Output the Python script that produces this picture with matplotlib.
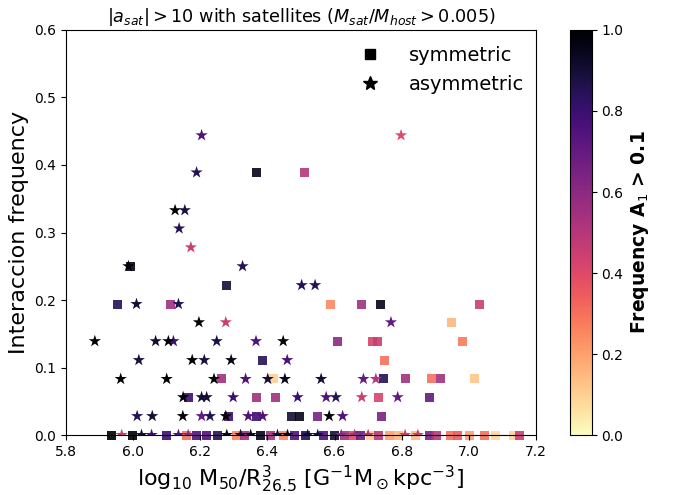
import matplotlib
matplotlib.use('Agg')
import matplotlib.pyplot as plt
from matplotlib.lines import Line2D

# symmetric galaxies (squares): x, interaction frequency, A1 frequency
sym_x = [6.368, 6.509,
         5.993,
         6.279,
         5.953, 6.110, 6.589, 6.679, 6.737, 7.033,
         6.949,
         6.608, 6.714, 6.727, 6.982,
         6.385, 6.748,
         6.262, 6.418, 6.745, 6.810, 6.889, 6.916, 7.018,
         6.164, 6.368, 6.425, 6.732, 6.882,
         6.283, 6.368, 6.472, 6.497, 6.550, 6.740,
         5.936, 5.999, 6.098, 6.160, 6.189, 6.219, 6.251, 6.309, 6.333, 6.378,
         6.408, 6.447, 6.482, 6.512, 6.566, 6.601, 6.631, 6.656, 6.676, 6.706,
         6.731, 6.765, 6.790, 6.840, 6.882, 6.904, 6.944, 6.966, 7.003, 7.048,
         7.078, 7.133, 7.152]
sym_y = [0.389, 0.389,
         0.250,
         0.222,
         0.194, 0.194, 0.194, 0.194, 0.194, 0.194,
         0.167,
         0.139, 0.139, 0.139, 0.139,
         0.111, 0.111,
         0.083, 0.083, 0.083, 0.083, 0.083, 0.083, 0.083,
         0.056, 0.056, 0.056, 0.056, 0.056,
         0.028, 0.028, 0.028, 0.028, 0.028, 0.028,
         0, 0, 0, 0, 0, 0, 0, 0, 0, 0,
         0, 0, 0, 0, 0, 0, 0, 0, 0, 0,
         0, 0, 0, 0, 0, 0, 0, 0, 0, 0,
         0, 0, 0]
sym_c = [0.95, 0.50,
         0.95,
         0.90,
         0.85, 0.55, 0.25, 0.55, 0.95, 0.45,
         0.15,
         0.60, 0.42, 0.45, 0.28,
         0.85, 0.30,
         0.55, 0.10, 0.85, 0.55, 0.30, 0.55, 0.12,
         0.80, 0.55, 0.55, 0.42, 0.70,
         0.80, 0.80, 0.90, 0.95, 0.65, 0.65,
         1.00, 1.00, 0.80, 0.30, 0.75, 0.75, 0.85, 0.25, 0.55, 0.95,
         0.55, 0.25, 0.75, 0.85, 0.75, 0.90, 0.55, 0.40, 0.70, 0.10,
         0.50, 0.20, 0.15, 0.15, 0.65, 0.50, 0.30, 0.35, 0.20, 0.30,
         0.08, 0.08, 0.45]

# asymmetric galaxies (stars)
asym_x = [6.204, 6.798,
          6.189,
          6.125, 6.154,
          6.137,
          6.172,
          5.986, 6.326,
          6.502, 6.542,
          6.010, 6.135,
          6.196, 6.276, 6.768,
          5.886, 6.067, 6.120, 6.105, 6.249, 6.366, 6.447,
          6.017, 6.176, 6.212, 6.292, 6.459,
          5.963, 6.100, 6.241, 6.335, 6.401, 6.452, 6.560, 6.686, 6.723,
          6.149, 6.204, 6.219, 6.298, 6.490, 6.575, 6.604, 6.681, 6.788,
          6.012, 6.057, 6.148, 6.204, 6.229, 6.276, 6.343, 6.386, 6.584, 6.624,
          5.966, 6.025, 6.055, 6.135, 6.164, 6.279, 6.320, 6.350, 6.430, 6.460,
          6.520, 6.550, 6.620, 6.660, 6.700, 6.810, 6.848]
asym_y = [0.444, 0.444,
          0.389,
          0.333, 0.333,
          0.306,
          0.278,
          0.250, 0.250,
          0.222, 0.222,
          0.194, 0.194,
          0.167, 0.167, 0.167,
          0.139, 0.139, 0.139, 0.139, 0.139, 0.139, 0.139,
          0.111, 0.111, 0.111, 0.111, 0.111,
          0.083, 0.083, 0.083, 0.083, 0.083, 0.083, 0.083, 0.083, 0.083,
          0.056, 0.056, 0.056, 0.056, 0.056, 0.056, 0.056, 0.056, 0.056,
          0.028, 0.028, 0.028, 0.028, 0.028, 0.028, 0.028, 0.028, 0.028, 0.028,
          0, 0, 0, 0, 0, 0, 0, 0, 0, 0,
          0, 0, 0, 0, 0, 0, 0]
asym_c = [0.75, 0.40,
          0.85,
          1.00, 0.88,
          0.85,
          0.45,
          1.00, 0.85,
          0.85, 0.85,
          0.90, 0.85,
          1.00, 0.45, 0.70,
          1.00, 0.90, 0.80, 1.00, 0.88, 0.75, 1.00,
          0.88, 1.00, 0.88, 0.95, 0.75,
          1.00, 1.00, 1.00, 0.75, 0.90, 0.95, 0.90, 0.70, 0.50,
          1.00, 0.90, 0.90, 0.80, 0.80, 0.75, 0.85, 0.45, 0.70,
          0.85, 0.90, 1.00, 0.70, 0.85, 1.00, 0.75, 0.75, 1.00, 0.75,
          0.45, 0.90, 0.80, 0.75, 0.60, 0.95, 0.90, 0.95, 0.90, 0.95,
          0.90, 0.90, 0.60, 0.55, 0.50, 0.45, 0.45]

fig = plt.figure(figsize=(6.76, 4.95), dpi=100)
ax = fig.add_axes([0.0976, 0.1212, 0.6953, 0.8182])
cax = fig.add_axes([0.843, 0.1212, 0.0325, 0.8182])

sc = ax.scatter(sym_x, sym_y, c=sym_c, cmap='magma_r', vmin=0, vmax=1,
                marker='s', s=42, alpha=0.9, linewidths=0, clip_on=False)
ax.scatter(asym_x, asym_y, c=asym_c, cmap='magma_r', vmin=0, vmax=1,
           marker='*', s=85, linewidths=0)

ax.set_xlim(5.8, 7.2)
ax.set_ylim(0, 0.6)
ax.set_xlabel(r'log$_{10}$ M$_{50}$/R$^{3}_{26.5}$ [G$^{-1}$M$_\odot$kpc$^{-3}$]', fontsize=16)
ax.set_ylabel('Interaccion frequency', fontsize=16)
ax.set_title(r'$|a_{sat}|>10$ with satellites ($M_{sat}/M_{host}>0.005$)', fontsize=12.7)

handles = [Line2D([], [], marker='s', color='black', linestyle='none', markersize=7),
           Line2D([], [], marker='*', color='black', linestyle='none', markersize=10)]
ax.legend(handles, ['symmetric', 'asymmetric'], loc='upper right', frameon=False,
          fontsize=14, bbox_to_anchor=(1.012, 1.003), handletextpad=1.0,
          labelspacing=0.5)

cb = fig.colorbar(sc, cax=cax)
cb.solids.set_alpha(1)
cb.set_label(r'Frequency A$_1$ > 0.1', fontsize=13.5, fontweight='bold')

plt.savefig('out.png', dpi=100)
